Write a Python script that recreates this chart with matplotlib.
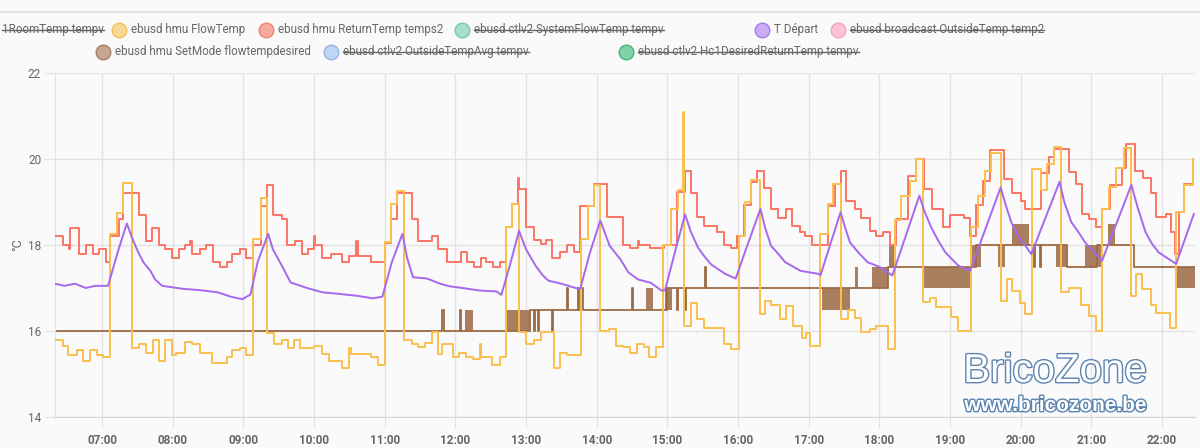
import matplotlib.pyplot as plt
import matplotlib.patheffects as pe
from matplotlib.lines import Line2D

plt.rcParams['font.family'] = ['Roboto', 'DejaVu Sans']

# ---- data ----
flow_time = ["06:20", "06:27", "06:31", "06:39", "06:44", "06:50", "06:56", "07:01",
             "07:07", "07:13", "07:18", "07:25", "07:31", "07:37", "07:43", "07:48",
             "07:53", "07:59", "08:03", "08:10", "08:16", "08:23", "08:33", "08:46",
             "08:50", "08:57", "09:02", "09:08", "09:15", "09:20", "09:26", "09:33",
             "09:38", "09:43", "09:48", "10:00", "10:07", "10:13", "10:24", "10:30",
             "10:31", "10:48", "10:54", "11:00", "11:05", "11:10", "11:16", "11:23",
             "11:28", "11:34", "11:40", "11:45", "11:49", "11:58", "12:03", "12:09",
             "12:15", "12:21", "12:22", "12:31", "12:38", "12:43", "12:48", "12:54",
             "13:00", "13:07", "13:13", "13:24", "13:29", "13:35", "13:47", "13:53",
             "13:58", "14:03", "14:10", "14:16", "14:22", "14:28", "14:34", "14:40",
             "14:44", "14:50", "14:56", "15:03", "15:09", "15:13", "15:14", "15:20",
             "15:25", "15:31", "15:48", "15:54", "16:01", "16:06", "16:11", "16:19",
             "16:23", "16:28", "16:36", "16:41", "16:47", "16:54", "16:58", "17:01",
             "17:10", "17:16", "17:21", "17:27", "17:33", "17:39", "17:44", "17:52",
             "17:57", "18:07", "18:13", "18:18", "18:26", "18:31", "18:37", "18:43",
             "18:48", "19:01", "19:07", "19:18", "19:24", "19:30", "19:35", "19:43",
             "19:48", "19:53", "19:59", "20:04", "20:10", "20:17", "20:22", "20:28",
             "20:34", "20:41", "20:51", "20:58", "21:04", "21:09", "21:15", "21:21",
             "21:28", "21:34", "21:38", "21:43", "21:51", "21:55", "22:07", "22:12",
             "22:19", "22:26"]
flow_temp = [15.8, 15.65, 15.45, 15.55, 15.3, 15.55, 15.45, 15.4,
             18.25, 18.75, 19.45, 15.6, 15.7, 15.5, 15.8, 15.3,
             15.8, 15.45, 15.5, 15.75, 15.7, 15.5, 15.25, 15.4,
             15.55, 15.6, 15.45, 18.15, 19.1, 15.95, 15.7, 15.8,
             15.6, 15.8, 15.6, 15.65, 15.47, 15.3, 15.13, 15.6,
             15.47, 15.4, 15.2, 18.08, 18.95, 19.26, 15.8, 15.7,
             15.62, 15.72, 15.97, 15.47, 15.7, 15.39, 15.5, 15.4,
             15.35, 15.7, 15.4, 15.2, 15.39, 18.43, 18.95, 15.97,
             15.7, 15.8, 15.97, 15.13, 15.5, 15.45, 18.14, 18.9,
             19.4, 16.0, 16.05, 15.64, 15.62, 15.5, 15.7, 15.62,
             15.39, 15.62, 18.0, 18.84, 19.29, 21.1, 16.12, 16.65,
             16.28, 16.06, 15.7, 15.58, 18.22, 19.0, 19.52, 16.4,
             16.7, 16.6, 16.28, 16.57, 16.12, 15.83, 15.95, 15.64,
             18.26, 18.95, 19.42, 16.28, 16.5, 16.3, 15.97, 16.05,
             16.12, 15.58, 18.57, 19.15, 19.5, 20.0, 16.67, 16.76,
             16.55, 16.32, 16.0, 18.41, 19.15, 19.73, 20.15, 16.7,
             17.2, 16.94, 16.65, 16.4, 19.77, 19.29, 19.88, 20.27,
             16.91, 17.0, 16.6, 16.36, 16.0, 18.84, 19.34, 19.8,
             20.25, 16.82, 17.33, 16.98, 16.6, 16.43, 16.06, 18.76,
             19.4, 20.0]

return_time = ["06:20", "06:27", "06:32", "06:33", "06:40", "06:46", "06:52", "06:57",
               "07:03", "07:07", "07:14", "07:18", "07:31", "07:37", "07:42", "07:48",
               "07:53", "07:59", "08:05", "08:10", "08:15", "08:16", "08:23", "08:28",
               "08:34", "08:40", "08:46", "08:50", "08:57", "09:02", "09:08", "09:15",
               "09:20", "09:25", "09:33", "09:37", "09:44", "09:50", "09:55", "10:00",
               "10:01", "10:07", "10:14", "10:24", "10:30", "10:36", "10:37", "10:48",
               "11:00", "11:05", "11:10", "11:23", "11:28", "11:40", "11:45", "11:53",
               "12:05", "12:10", "12:16", "12:22", "12:26", "12:32", "12:38", "12:43",
               "12:48", "12:53", "12:54", "13:00", "13:07", "13:13", "13:17", "13:22",
               "13:29", "13:35", "13:41", "13:46", "13:58", "14:09", "14:22", "14:28",
               "14:35", "14:36", "14:45", "14:57", "15:08", "15:15", "15:20", "15:25",
               "15:31", "15:42", "15:48", "15:54", "15:59", "16:05", "16:11", "16:16",
               "16:22", "16:28", "16:34", "16:41", "16:46", "16:53", "16:57", "17:03",
               "17:16", "17:22", "17:27", "17:32", "17:39", "17:44", "17:52", "17:57",
               "18:03", "18:09", "18:14", "18:24", "18:31", "18:38", "18:45", "18:54",
               "19:00", "19:12", "19:17", "19:22", "19:28", "19:34", "19:46", "19:53",
               "20:00", "20:04", "20:17", "20:24", "20:28", "20:41", "20:47", "20:52",
               "20:58", "21:04", "21:09", "21:16", "21:26", "21:29", "21:37", "21:44",
               "21:51", "21:55", "22:03", "22:08", "22:11", "22:14", "22:19", "22:26"]
return_temp = [18.2, 18.0, 17.9, 18.4, 17.8, 18.0, 17.8, 17.9,
               17.6, 18.2, 18.6, 19.2, 18.7, 18.1, 18.4, 18.0,
               17.9, 17.7, 17.9, 18.0, 18.1, 17.8, 17.9, 18.0,
               17.6, 17.5, 17.6, 17.8, 17.9, 17.7, 18.0, 18.9,
               19.4, 18.7, 18.6, 18.0, 18.1, 17.8, 17.9, 18.2,
               18.0, 17.7, 17.8, 17.6, 17.75, 18.1, 17.75, 17.6,
               18.05, 18.6, 19.2, 18.6, 18.1, 18.2, 17.9, 17.6,
               17.83, 17.6, 17.5, 17.7, 17.6, 17.5, 17.6, 18.43,
               18.95, 19.55, 19.3, 18.43, 18.12, 18.02, 18.12, 17.7,
               17.83, 18.0, 17.83, 18.9, 19.42, 18.64, 18.0, 17.92,
               18.1, 18.0, 17.92, 18.0, 19.24, 19.73, 19.22, 18.64,
               18.44, 18.3, 18.0, 17.92, 18.22, 18.93, 19.47, 19.73,
               19.32, 18.84, 18.62, 18.84, 18.44, 18.3, 18.2, 18.0,
               18.91, 19.42, 19.73, 19.03, 18.84, 18.62, 18.33, 18.22,
               18.3, 18.0, 18.6, 19.6, 20.0, 19.3, 18.84, 18.41,
               18.7, 18.62, 18.22, 18.93, 19.5, 20.2, 19.53, 19.22,
               19.03, 18.84, 19.67, 20.04, 20.23, 19.69, 19.42, 18.72,
               18.6, 18.41, 18.84, 19.4, 19.8, 20.35, 19.73, 19.55,
               19.22, 18.64, 18.72, 18.3, 17.8, 18.76, 19.42, 20.0]

depart_time = ["06:20", "06:28", "06:37", "06:46", "06:54", "07:05", "07:14", "07:21",
               "07:25", "07:30", "07:35", "07:41", "07:45", "07:51", "08:09", "08:23",
               "08:38", "08:49", "08:59", "09:06", "09:12", "09:21", "09:25", "09:33",
               "09:40", "09:54", "10:07", "10:22", "10:36", "10:50", "10:58", "11:06",
               "11:15", "11:19", "11:24", "11:36", "11:47", "11:55", "12:06", "12:21",
               "12:35", "12:39", "12:46", "12:54", "13:00", "13:08", "13:14", "13:19",
               "13:30", "13:42", "13:46", "13:54", "14:03", "14:11", "14:20", "14:27",
               "14:35", "14:46", "14:55", "14:58", "15:07", "15:15", "15:20", "15:26",
               "15:31", "15:37", "15:49", "15:58", "16:08", "16:19", "16:23", "16:28",
               "16:34", "16:40", "16:53", "17:08", "17:10", "17:27", "17:31", "17:35",
               "17:43", "17:50", "18:01", "18:11", "18:34", "18:38", "18:44", "18:50",
               "18:56", "19:07", "19:17", "19:43", "19:47", "19:52", "19:58", "20:04",
               "20:09", "20:33", "20:37", "20:43", "20:49", "20:55", "21:04", "21:09",
               "21:34", "21:39", "21:46", "21:51", "21:57", "22:12", "22:27"]
depart_temp = [17.1, 17.05, 17.1, 17.0, 17.05, 17.05, 17.9, 18.5,
               18.2, 17.87, 17.6, 17.4, 17.2, 17.05, 16.98, 16.95,
               16.9, 16.8, 16.74, 16.85, 17.6, 18.26, 17.9, 17.5,
               17.13, 17.0, 16.9, 16.86, 16.82, 16.76, 16.8, 17.6,
               18.26, 17.7, 17.25, 17.22, 17.1, 17.04, 17.0, 16.94,
               16.92, 16.84, 17.5, 18.33, 17.9, 17.52, 17.3, 17.17,
               17.1, 17.0, 16.98, 17.8, 18.57, 17.98, 17.67, 17.36,
               17.2, 17.12, 16.94, 16.95, 17.9, 18.71, 18.3, 17.94,
               17.75, 17.55, 17.33, 17.22, 18.0, 18.84, 18.4, 17.98,
               17.8, 17.6, 17.4, 17.33, 17.3, 18.76, 18.4, 18.06,
               17.8, 17.6, 17.48, 17.29, 19.15, 18.8, 18.41, 18.1,
               17.83, 17.52, 17.4, 19.34, 18.95, 18.53, 18.2, 17.98,
               17.79, 19.47, 19.0, 18.53, 18.3, 18.05, 17.79, 17.63,
               19.4, 18.9, 18.3, 18.05, 17.83, 17.56, 18.72]

setmode_time = ["06:20", "11:49", "11:50", "12:04", "12:05", "13:03", "13:07", "13:08",
                "13:10", "13:11", "13:22", "13:23", "13:35", "13:36", "13:44", "13:45",
                "13:47", "13:48", "14:30", "14:31", "15:00", "15:08", "15:09", "15:15",
                "15:16", "15:32", "15:33", "18:07", "19:22", "20:11", "20:12", "20:16",
                "20:17", "20:39", "21:05", "21:36", "22:28"]
setmode_temp = [16.0, 16.5, 16.0, 16.5, 16.0, 16.5, 16.0, 16.5,
                16.0, 16.5, 16.0, 16.5, 17.0, 16.5, 17.0, 16.5,
                17.0, 16.5, 17.0, 16.5, 17.0, 16.5, 17.0, 16.5,
                17.0, 17.5, 17.0, 17.5, 18.0, 17.5, 18.0, 17.5,
                18.0, 17.5, 18.0, 17.5, 17.5]

# spans where the set point toggles quickly between two levels
toggle_start = ["12:08", "12:44", "14:42", "14:58", "17:11", "17:39", "17:54", "18:08",
                "18:37", "19:17", "19:41", "19:53", "20:30", "20:55", "21:14", "22:12"]
toggle_end = ["12:15", "13:03", "14:48", "15:04", "17:35", "17:42", "18:07", "18:14",
              "19:17", "19:26", "19:47", "20:07", "20:39", "21:09", "21:20", "22:28"]
toggle_low = [16.0, 16.0, 16.5, 16.5, 16.5, 17.0, 17.0, 17.5,
              17.0, 17.5, 17.5, 18.0, 17.5, 17.5, 18.0, 17.0]
toggle_high = [16.5, 16.5, 17.0, 17.0, 17.0, 17.5, 17.5, 18.0,
               17.5, 18.0, 18.0, 18.5, 18.0, 18.0, 18.5, 17.5]

hour_ticks = list(range(7, 23))
temp_ticks = [14, 16, 18, 20, 22]


def hours(t):
    h, m = t.split(":")
    return int(h) + int(m) / 60


BG = "#fafafa"
GRID = "#e2e2e2"
TXT = "#666666"
YELLOW = "#f9c04e"
RED = "#fc7564"
PURPLE = "#a568ef"
BROWN = "#9c6a45"

fig = plt.figure(figsize=(12, 4.48), dpi=100, facecolor=BG)
ax = fig.add_axes([55 / 1200, 1 - 417 / 448, 1140 / 1200, 344 / 448])
ax.set_facecolor(BG)

# set mode: toggling blocks + step line
for s, e, lo, hi in zip(toggle_start, toggle_end, toggle_low, toggle_high):
    ax.fill_between([hours(s), hours(e)], [lo, lo], [hi, hi], color=BROWN,
                    alpha=0.85, lw=0, zorder=2)
ax.step([hours(t) for t in setmode_time], setmode_temp, where="post",
        color=BROWN, lw=1.3, zorder=2)

ax.step([hours(t) for t in return_time], return_temp, where="post",
        color=RED, lw=1.4, zorder=3)
ax.step([hours(t) for t in flow_time], flow_temp, where="post",
        color=YELLOW, lw=1.4, zorder=4)
ax.plot([hours(t) for t in depart_time], depart_temp,
        color=PURPLE, lw=1.4, zorder=5)

ax.set_xlim(6 + 20 / 60, 22 + 28 / 60)
ax.set_ylim(14, 22)
ax.set_xticks(hour_ticks)
ax.set_xticklabels(["%02d:00" % h for h in hour_ticks], fontweight="bold")
ax.set_yticks(temp_ticks)
ax.grid(True, color=GRID, lw=1, zorder=0)
ax.set_axisbelow(True)
for side in ["top", "right"]:
    ax.spines[side].set_visible(False)
ax.spines["left"].set_color(GRID)
ax.spines["bottom"].set_color("#d6d6d6")
ax.tick_params(axis="both", length=8, color=GRID, labelcolor=TXT, labelsize=8.5)
ax.tick_params(axis="x", pad=4)
ax.tick_params(axis="y", pad=2)

fig.text(18 / 1200, 1 - 245 / 448, "°C", rotation=90, ha="center", va="center",
         color=TXT, fontsize=9)

# top separator
fig.add_artist(Line2D([0, 1], [1 - 12 / 448] * 2, color="#dddddd", lw=1.2,
                      transform=fig.transFigure))

# legend
legend_items = [
    # (circle x, row y, label, fill, edge, hidden)
    (None, 30, "1RoomTemp tempv", None, None, True),
    (119, 30, "ebusd hmu FlowTemp", "#f8d993", "#f0c060", False),
    (266, 30, "ebusd hmu ReturnTemp temps2", "#f9aaa0", "#f08272", False),
    (462, 30, "ebusd ctlv2 SystemFlowTemp tempv", "#a6dfcd", "#78c7ae", True),
    (762, 30, "T Départ", "#cbabf5", "#a678ea", False),
    (838, 30, "ebusd broadcast OutsideTemp temp2", "#fdc2d5", "#f2a3bd", True),
    (103, 52, "ebusd hmu SetMode flowtempdesired", "#c5a791", "#a57f63", False),
    (331, 52, "ebusd ctlv2 OutsideTempAvg tempv", "#bfd5f7", "#95b4e8", True),
    (626, 52, "ebusd ctlv2 Hc1DesiredReturnTemp tempv", "#80d2a8", "#45b37a", True),
]
struck = []
for cx, ry, label, fill, edge, hidden in legend_items:
    fy = 1 - ry / 448
    if cx is None:
        t = fig.text(2 / 1200, fy, label, ha="left", va="center",
                     color=TXT, fontsize=8.4)
    else:
        fig.add_artist(Line2D([cx / 1200], [fy], marker="o", markersize=10.5,
                              mfc=fill, mec=edge, mew=1, ls="none",
                              transform=fig.transFigure))
        t = fig.text((cx + 12) / 1200, fy, label, ha="left", va="center",
                     color=TXT, fontsize=8.4)
    if hidden:
        struck.append(t)

# watermark
halo = [pe.withStroke(linewidth=2, foreground="#5a83b0")]
fig.text(1055 / 1200, 1 - 382 / 448, "BricoZone", ha="center", va="baseline",
         fontsize=29, color="white", family="Liberation Sans", path_effects=halo)
fig.text(1056 / 1200, 1 - 411 / 448, "www.bricozone.be", ha="center", va="baseline",
         fontsize=15, color="white", family="Liberation Sans", fontweight="bold",
         path_effects=halo)

fig.canvas.draw()
r = fig.canvas.get_renderer()
for t in struck:
    bb = t.get_window_extent(r).transformed(fig.transFigure.inverted())
    ym = bb.y0 + 0.47 * (bb.y1 - bb.y0)
    fig.add_artist(Line2D([bb.x0, bb.x1], [ym, ym], color=TXT, lw=1,
                          transform=fig.transFigure))

fig.savefig("out.png", dpi=100, facecolor=BG)
